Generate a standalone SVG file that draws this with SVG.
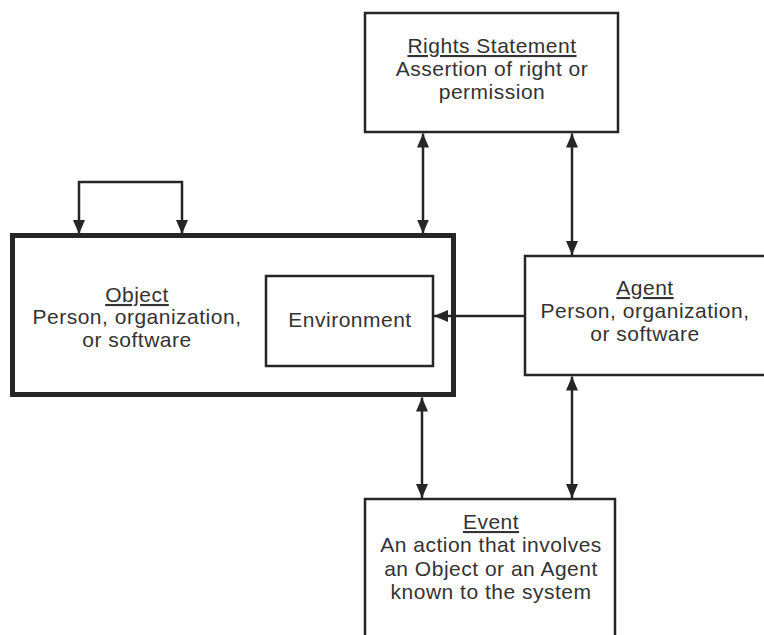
<svg xmlns="http://www.w3.org/2000/svg" width="764" height="635" viewBox="0 0 764 635">
  <style>
    .box { fill: #ffffff; stroke: #262626; stroke-width: 2.5; }
    .thick { stroke-width: 5; }
    .lbl { font-family: "Liberation Sans", Arial, sans-serif; font-size: 21px; letter-spacing: 0.5px; fill: #333333; text-anchor: middle; }
    .ttl { text-decoration: underline; }
    .conn { fill: none; stroke: #262626; stroke-width: 2.5; }
  </style>
  <defs>
    <marker id="arrowEnd" viewBox="0 0 14 12" refX="14" refY="6" markerWidth="14" markerHeight="12" markerUnits="userSpaceOnUse" orient="auto">
      <path d="M0,0 L14,6 L0,12 Z" fill="#262626"/>
    </marker>
    <marker id="arrowStart" viewBox="0 0 14 12" refX="0" refY="6" markerWidth="14" markerHeight="12" markerUnits="userSpaceOnUse" orient="auto">
      <path d="M14,0 L0,6 L14,12 Z" fill="#262626"/>
    </marker>
  </defs>
  <rect width="764" height="635" fill="#ffffff"/>

  <g id="rights-statement">
    <rect class="box" x="365" y="13" width="253" height="119"/>
    <text class="lbl" x="492" y="53"><tspan class="ttl">Rights Statement</tspan></text>
    <text class="lbl" x="492" y="76">Assertion of right or</text>
    <text class="lbl" x="492" y="99">permission</text>
  </g>

  <g id="object">
    <rect class="box thick" x="12.5" y="235.5" width="441" height="159"/>
    <text class="lbl" x="137" y="302"><tspan class="ttl">Object</tspan></text>
    <text class="lbl" x="137" y="324">Person, organization,</text>
    <text class="lbl" x="137" y="347">or software</text>
  </g>

  <g id="environment">
    <rect class="box" x="266" y="276" width="167" height="90"/>
    <text class="lbl" x="350" y="327">Environment</text>
  </g>

  <g id="agent">
    <rect class="box" x="525" y="256" width="250" height="119"/>
    <text class="lbl" x="645" y="295"><tspan class="ttl">Agent</tspan></text>
    <text class="lbl" x="645" y="318">Person, organization,</text>
    <text class="lbl" x="645" y="341">or software</text>
  </g>

  <g id="event">
    <rect class="box" x="365" y="499" width="250" height="150"/>
    <text class="lbl" x="491" y="529"><tspan class="ttl">Event</tspan></text>
    <text class="lbl" x="491" y="552">An action that involves</text>
    <text class="lbl" x="491" y="576">an Object or an Agent</text>
    <text class="lbl" x="491" y="599">known to the system</text>
  </g>

  <g id="connectors">
    <!-- self loop on Object -->
    <path class="conn" d="M79,234 V182 H182 V234" marker-start="url(#arrowStart)" marker-end="url(#arrowEnd)"/>
    <!-- Rights Statement <-> Object -->
    <path class="conn" d="M423,133.5 V233.5" marker-start="url(#arrowStart)" marker-end="url(#arrowEnd)"/>
    <!-- Rights Statement <-> Agent -->
    <path class="conn" d="M572,133.5 V255" marker-start="url(#arrowStart)" marker-end="url(#arrowEnd)"/>
    <!-- Agent -> Environment -->
    <path class="conn" d="M524,316 H434" marker-end="url(#arrowEnd)"/>
    <!-- Object <-> Event -->
    <path class="conn" d="M422,397.5 V498" marker-start="url(#arrowStart)" marker-end="url(#arrowEnd)"/>
    <!-- Agent <-> Event -->
    <path class="conn" d="M572,376.5 V498" marker-start="url(#arrowStart)" marker-end="url(#arrowEnd)"/>
  </g>
</svg>
